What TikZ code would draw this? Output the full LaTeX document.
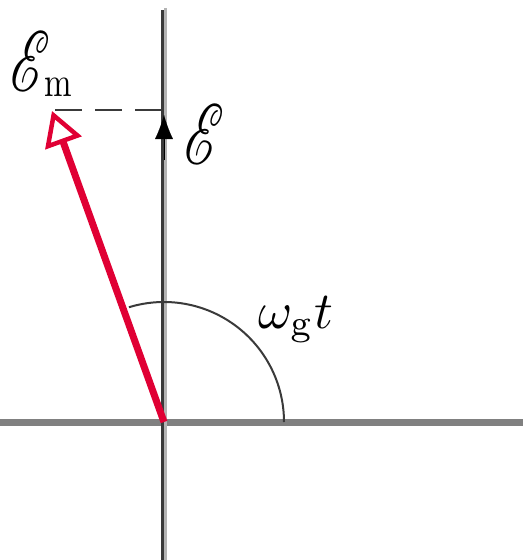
\documentclass[tikz,border=0pt]{standalone}
\usepackage{mathrsfs}
\usetikzlibrary{arrows.meta}
\definecolor{phasred}{RGB}{224,0,52}
\definecolor{axisgray}{RGB}{128,128,128}
\definecolor{axisdark}{RGB}{58,58,58}
\definecolor{axislight}{RGB}{180,180,180}
\newcommand{\bigE}{\resizebox{40pt}{60pt}{$\mathscr{E}$}}
\newcommand{\subm}{\kern-6pt\raisebox{-5pt}{\scalebox{3.3}[4.2]{m}}}
\tikzset{
  haxis/.style={draw=axisgray, line width=6.5pt},
  vdark/.style={draw=axisdark, line width=3pt},
  vlight/.style={draw=axislight, line width=3pt},
  anglearc/.style={draw=axisdark, line width=2pt},
  dashline/.style={draw=axisdark, line width=2.5pt, dash pattern=on 27pt off 13pt},
  phasor/.style={draw=phasred, line width=7pt, -{Triangle[open, length=34pt, width=38pt, line width=4.5pt]}},
  smalltip/.style={draw=black, line width=0.1pt, -{Latex[length=24pt, width=18pt]}},
  lbl/.style={inner sep=0pt, anchor=base west}
}
\begin{document}
\begin{tikzpicture}[x=1pt, y=-1pt]
\useasboundingbox (0,0) rectangle (523,560);
% coordinates
\coordinate (O) at (164,422);
\coordinate (HL) at (0,422.5);
\coordinate (HR) at (523,422.5);
\coordinate (VDt) at (162.5,10);
\coordinate (VDb) at (162.5,560);
\coordinate (VLt) at (165.5,8);
\coordinate (VLb) at (165.5,560);
\coordinate (A) at (284,422);
\coordinate (P) at (52,111);
\coordinate (D1) at (55,110);
\coordinate (D2) at (164,110);
\coordinate (T0) at (164,160);
\coordinate (T1) at (164,115);
% axes
\draw[haxis] (HL) -- (HR);
\draw[vdark] (VDt) -- (VDb);
\draw[vlight] (VLt) -- (VLb);
% angle arc
\draw[anglearc] (A) arc[start angle=0, end angle=-107, radius=120];
% dashed projection
\draw[dashline] (D1) -- (D2);
% small arrowhead on vertical axis
\draw[smalltip] (T0) -- (T1);
% phasor
\draw[phasor] (O) -- (P);
% labels
\node[lbl] (Em) at (10,91) {\bigE\subm};
\node[lbl] (E) at (184,164) {\bigE};
\node[lbl, scale=5.2] (wt) at (257,328) {$\omega_{\mathrm{g}}t$};
\end{tikzpicture}
\end{document}
